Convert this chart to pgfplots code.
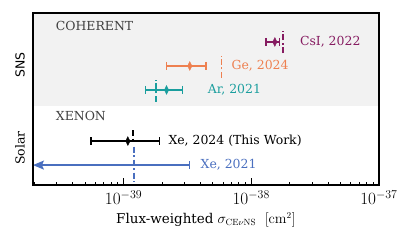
\documentclass[border=0pt]{standalone}
\usepackage[no-math]{fontspec}
\setmainfont{DejaVu Serif}
\setsansfont{DejaVu Sans}
\usepackage{pgfplots}
\pgfplotsset{compat=1.18}
\usetikzlibrary{arrows.meta}
\definecolor{csi}{HTML}{861C61}
\definecolor{ge}{HTML}{EE8050}
\definecolor{ar}{HTML}{1A9E9E}
\definecolor{xeold}{HTML}{4A6FBF}
\definecolor{bg}{HTML}{F2F2F2}
\tikzset{sm/.style={line width=1.8bp, dash pattern=on 6bp off 2.5bp on 2bp off 2.5bp},
  eb/.style={line width=1.4bp, mark=|, mark size=4bp, mark options={solid, line width=1.4bp}},
  dm/.style={only marks, mark=diamond*, mark size=4.4bp, mark options={xscale=0.65}},
  lab/.style={anchor=west, inner sep=0pt, font=\fontsize{12.5}{14}\selectfont}}
\begin{document}
\begin{tikzpicture}
\useasboundingbox (-33bp,-60bp) rectangle (383bp,185bp);
\begin{axis}[
  at={(0,0)}, anchor=south west,
  scale only axis, width=346bp, height=172bp,
  xmode=log, xmin=1.95e-40, xmax=1e-37,
  ymin=0, ymax=7.1667,
  clip=false,
  axis line style={line width=1.5bp},
  axis on top,
  xtick pos=lower, tick align=inside,
  major tick length=7bp, minor tick length=3.5bp,
  every tick/.style={line width=0.8bp, black},
  xticklabel style={font=\fontsize{17.28}{19}\selectfont, yshift=-2bp},
  ytick={1.54,5.0}, yticklabels={Solar,{\sffamily SNS}},
  ytick style={draw=none},
  yticklabel style={rotate=90, anchor=south, inner sep=0pt, font=\fontsize{12.5}{14}\selectfont},
  yticklabel shift=8bp,
  xlabel={Flux-weighted $\sigma_{\mathrm{CE}\nu\mathrm{NS}}$\ \ $[\mathrm{cm}^2]$},
  xlabel style={font=\fontsize{13.5}{15}\selectfont, yshift=-1bp},
]
% grey SNS background
\addplot[draw=none, fill=bg, forget plot] coordinates {(1.95e-40,3.29) (1e-37,3.29) (1e-37,7.1667) (1.95e-40,7.1667)} -- cycle;

% CsI
\addplot[csi, eb] coordinates {(1.30e-38,5.96) (1.67e-38,5.96)};
\addplot[csi, dm] coordinates {(1.53e-38,5.96)};
\addplot[csi, sm] coordinates {(1.77e-38,5.5) (1.77e-38,6.4)};
\node[lab, text=csi] at (axis cs:2.40e-38,5.96) {CsI, 2022};

% Ge
\addplot[ge, eb] coordinates {(2.16e-39,4.96) (4.41e-39,4.96)};
\addplot[ge, dm] coordinates {(3.30e-39,4.96)};
\addplot[ge, sm] coordinates {(5.85e-39,4.46) (5.85e-39,5.38)};
\node[lab, text=ge] at (axis cs:7.0e-39,4.96) {Ge, 2024};

% Ar
\addplot[ar, eb] coordinates {(1.48e-39,3.96) (2.89e-39,3.96)};
\addplot[ar, dm] coordinates {(2.17e-39,3.96)};
\addplot[ar, sm] coordinates {(1.80e-39,3.47) (1.80e-39,4.38)};
\node[lab, text=ar] at (axis cs:4.55e-39,3.96) {Ar, 2021};

% Xe 2024
\addplot[black, eb] coordinates {(5.55e-40,1.83) (1.91e-39,1.83)};
\addplot[black, dm] coordinates {(1.08e-39,1.83)};
\addplot[black, sm] coordinates {(1.19e-39,2.29) (1.19e-39,1.83)};
\node[lab, text=black] at (axis cs:2.24e-39,1.83) {Xe, 2024 (This Work)};

% Xe 2021
\addplot[xeold, sm] coordinates {(1.20e-39,1.6) (1.20e-39,0.13)};
\addplot[xeold, line width=1.4bp, -{Stealth[length=11bp,width=9bp,inset=2bp]}] coordinates {(3.28e-39,0.83) (1.95e-40,0.83)};
\addplot[xeold, only marks, mark=|, mark size=4bp, mark options={line width=1.4bp}] coordinates {(3.28e-39,0.83)};
\node[lab, text=xeold] at (axis cs:4.0e-39,0.83) {Xe, 2021};

% group labels
\node[lab, text=black!75] at (axis cs:2.94e-40,6.625) {COHERENT};
\node[lab, text=black!75] at (axis cs:2.94e-40,2.875) {XENON};
\end{axis}
\end{tikzpicture}
\end{document}
